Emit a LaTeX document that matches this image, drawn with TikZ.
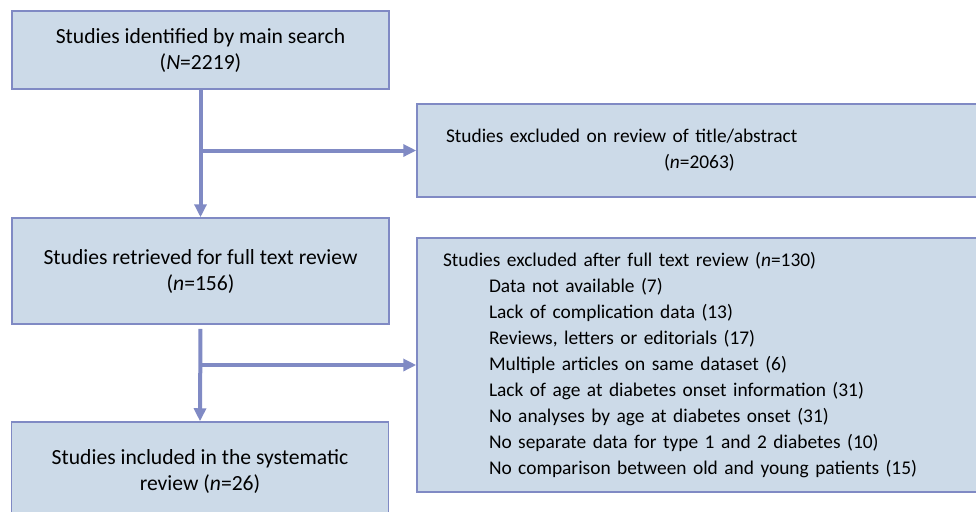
\documentclass[tikz,border=0pt]{standalone}
\usepackage{fontspec}
\setmainfont{Carlito}
\usepackage{xcolor}
\usepackage{tikz}
\usetikzlibrary{calc,arrows.meta,positioning}

\definecolor{boxfill}{RGB}{204,218,232}
\definecolor{boxline}{RGB}{128,138,196}

\begin{document}
\begin{tikzpicture}[x=0.5pt,y=-0.5pt,
  box/.style={draw=boxline,fill=boxfill,line width=0.75pt,rectangle,inner sep=0pt,
    font=\fontsize{10.8pt}{13pt}\selectfont},
  sidebox/.style={box,font=\fontsize{9.7pt}{13pt}\selectfont},
  flow/.style={draw=boxline,line width=2pt,-{Triangle[length=6.5pt,width=6pt]}}]
  \useasboundingbox (0,0) rectangle (976,511);
  \clip (0,0) rectangle (976,511);

  % left column
  \node[box,minimum width=188.5pt,minimum height=39pt,align=center] (search) at (200.5,50)
  {Studies identified by main search\\(\textit{N}=2219)};
  \node[box,minimum width=188.5pt,minimum height=53pt,align=center] (full) at (200.5,271)
  {Studies retrieved for full text review\\(\textit{n}=156)};
  \node[box,minimum width=188.5pt,minimum height=49.5pt,align=center] (incl) at (200,471.5)
  {Studies included in the systematic\\review (\textit{n}=26)};

  % right column
  \node[sidebox,minimum width=291.5pt,minimum height=46.5pt,text width=262.5pt,align=left] (title) at (708.5,150.5)
  {Studies excluded on review of title/abstract\\\hspace*{109pt}(\textit{n}=2063)};
  \node[sidebox,minimum width=291.5pt,minimum height=127pt,text width=265.5pt,align=left] (excl) at (708.5,365)
  {Studies excluded after full text review (\textit{n}=130)\\
  \hspace*{23pt}Data not available (7)\\
  \hspace*{23pt}Lack of complication data (13)\\
  \hspace*{23pt}Reviews, letters or editorials (17)\\
  \hspace*{23pt}Multiple articles on same dataset (6)\\
  \hspace*{23pt}Lack of age at diabetes onset information (31)\\
  \hspace*{23pt}No analyses by age at diabetes onset (31)\\
  \hspace*{23pt}No separate data for type 1 and 2 diabetes (10)\\
  \hspace*{23pt}No comparison between old and young patients (15)};

  \draw[flow] (search.south) -- (full.north);
  \draw[flow] (search.south |- title.west) -- (title.west);
  \draw[flow,shorten <=2pt] (full.south) -- (incl.north);
  \draw[flow] (full.south |- excl.west) -- (excl.west);

\end{tikzpicture}
\end{document}
